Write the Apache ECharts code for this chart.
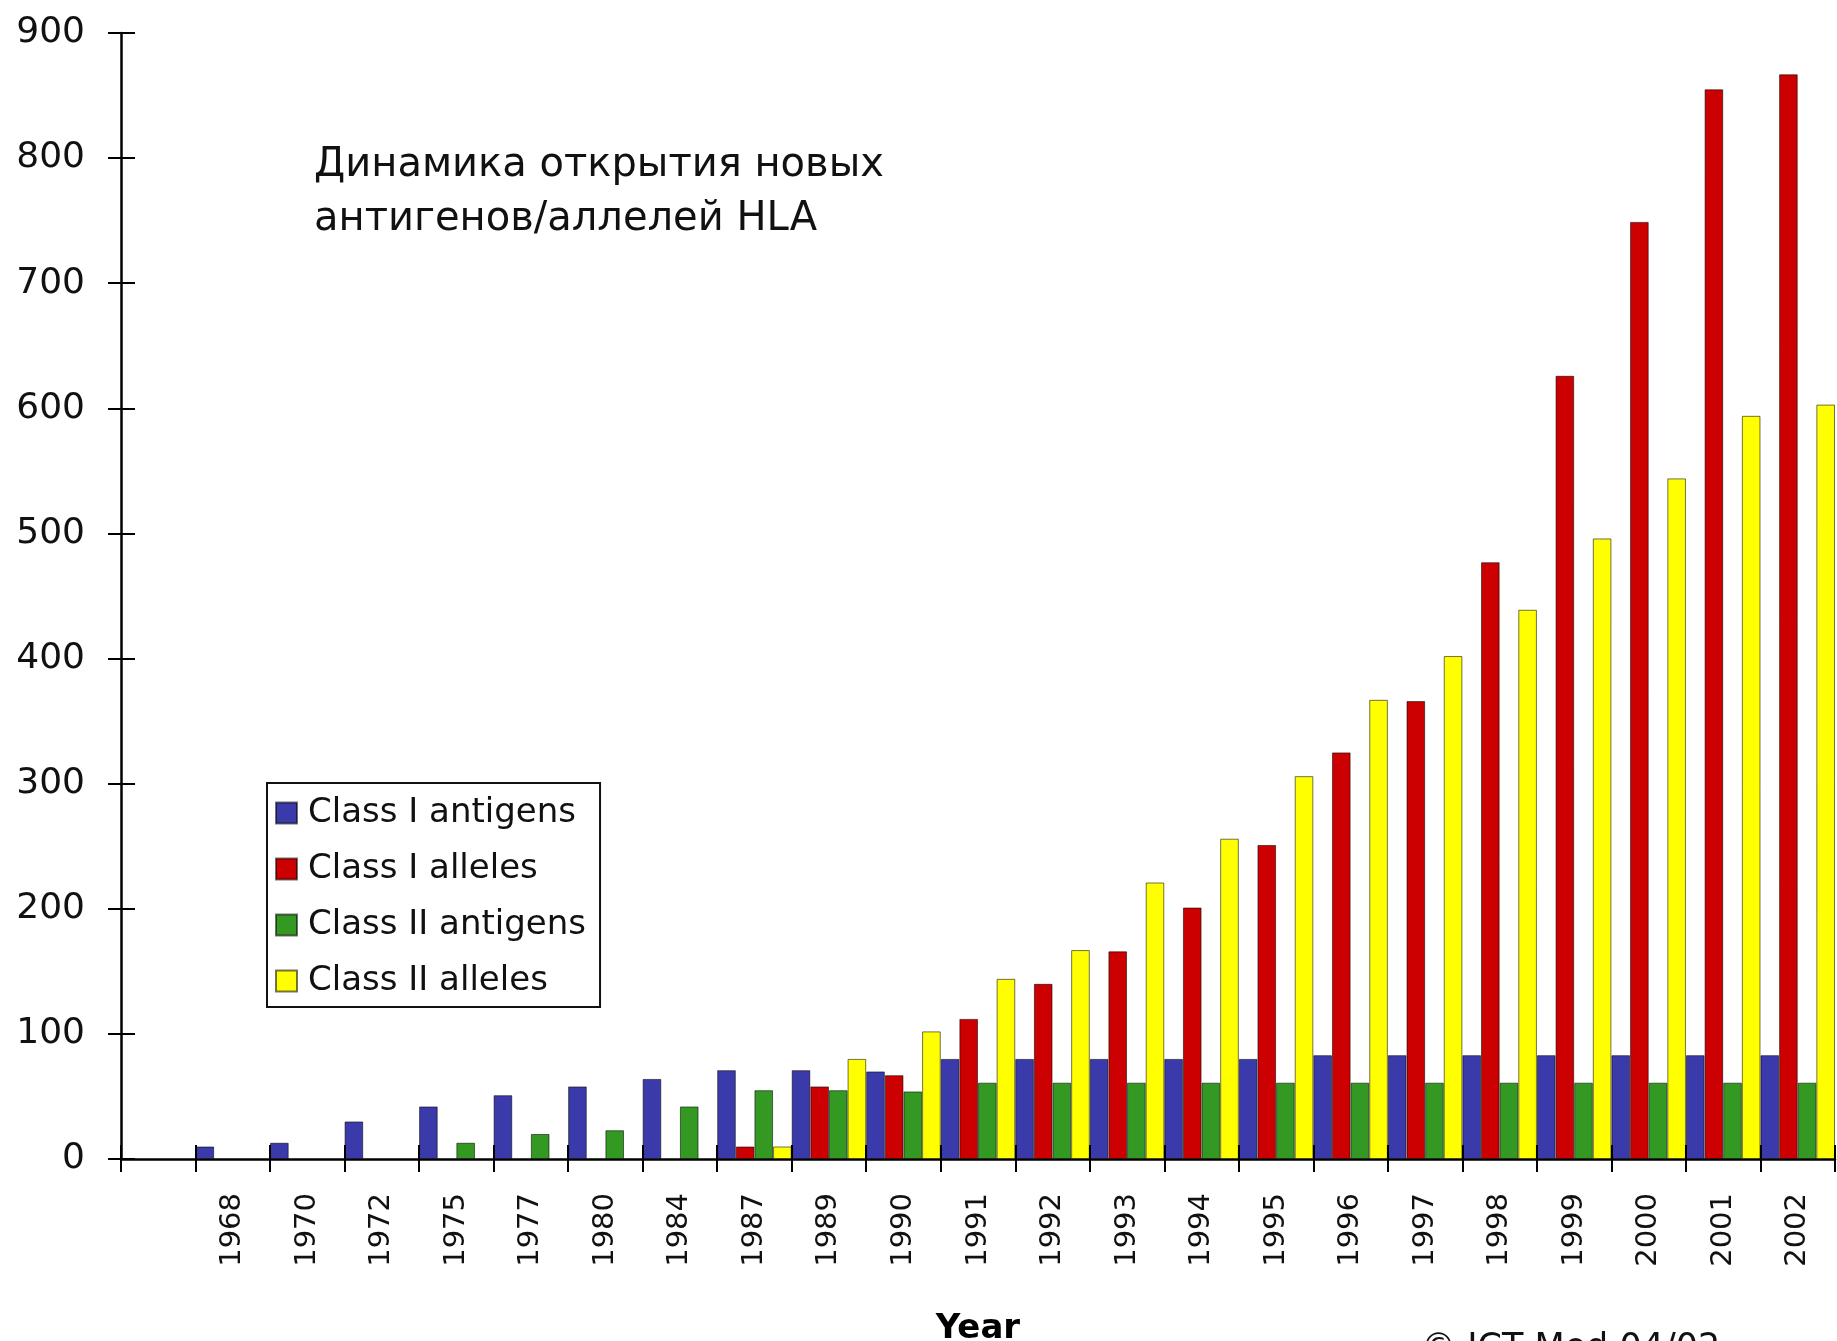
<!DOCTYPE html>
<html>
<head>
<meta charset="utf-8">
<title>HLA antigens and alleles by year</title>
<script src="https://cdn.jsdelivr.net/npm/echarts@6/dist/echarts.min.js"></script>
<style>
  html, body { margin: 0; padding: 0; background: #fff; }
  #chart { width: 1837px; height: 1341px; }
</style>
</head>
<body>
<div id="chart"></div>
<script>
// Years in which new HLA antigens / alleles were counted
const years = ['1968', '1970', '1972', '1975', '1977', '1980', '1984', '1987', '1989', '1990',
  '1991', '1992', '1993', '1994', '1995', '1996', '1997', '1998', '1999', '2000', '2001', '2002'];

// Cumulative counts per year (null = none recorded yet)
const classIAntigens = [10, 13, 30, 42, 51, 58, 64, 71, 71, 70, 80, 80, 80, 80, 80, 83, 83, 83, 83, 83, 83, 83];
const classIAlleles = [null, null, null, null, null, null, null, 10, 58, 67, 112, 140, 166, 201, 251, 325, 366, 477, 626, 749, 855, 867];
const classIIAntigens = [null, null, null, 13, 20, 23, 42, 55, 55, 54, 61, 61, 61, 61, 61, 61, 61, 61, 61, 61, 61, 61];
const classIIAlleles = [null, null, null, null, null, null, null, 10, 80, 102, 144, 167, 221, 256, 306, 367, 402, 439, 496, 544, 594, 603];

const yTicks = { min: 0, max: 900, interval: 100 };

const seriesNames = ['Class I antigens', 'Class I alleles', 'Class II antigens', 'Class II alleles'];
const seriesColors = ['#3a3aaa', '#cc0000', '#339922', '#ffff00'];
const seriesValues = [classIAntigens, classIAlleles, classIIAntigens, classIIAlleles];

// the axis starts one empty slot before the first year
const axisCategories = [''].concat(years);

const FONT = 'DejaVu Sans';
const chart = echarts.init(document.getElementById('chart'), null, { renderer: 'canvas' });

const series = seriesNames.map((name, i) => ({
  name: name,
  type: 'bar',
  xAxisIndex: 0,
  yAxisIndex: 0,
  barGap: '0%',
  barCategoryGap: '0%',
  data: [null].concat(seriesValues[i]),
  itemStyle: {
    color: seriesColors[i],
    borderColor: 'rgba(0,0,0,0.55)',
    borderWidth: 1
  },
  emphasis: { disabled: true }
}));

chart.setOption({
  animation: false,
  backgroundColor: '#ffffff',
  textStyle: { fontFamily: FONT },
  title: {
    text: 'Динамика открытия новых\nантигенов/аллелей HLA',
    left: 314,
    top: 139,
    padding: 0,
    textStyle: {
      fontFamily: FONT,
      fontSize: 40,
      fontWeight: 'normal',
      color: '#111',
      lineHeight: 54
    }
  },
  legend: {
    orient: 'vertical',
    left: 267,
    top: 783,
    padding: [12, 14, 8, 8],
    itemGap: 20,
    itemWidth: 21,
    itemHeight: 21,
    borderColor: '#111',
    borderWidth: 2,
    backgroundColor: '#fff',
    icon: 'rect',
    selectedMode: false,
    textStyle: {
      fontFamily: FONT,
      fontSize: 34,
      color: '#111',
      lineHeight: 36,
      padding: [0, 0, 0, 6]
    },
    data: seriesNames
  },
  grid: {
    left: 121,
    right: 2,
    top: 33,
    bottom: 182,
    containLabel: false,
    outerBoundsMode: 'none'
  },
  xAxis: [
    {
      type: 'category',
      data: axisCategories,
      boundaryGap: true,
      name: 'Year',
      nameLocation: 'middle',
      nameGap: 153,
      nameTextStyle: { fontFamily: FONT, fontSize: 34, fontWeight: 'bold', color: '#000' },
      axisLine: { lineStyle: { color: '#000', width: 2.5 } },
      axisTick: { show: true, inside: false, length: 13, interval: 0, lineStyle: { color: '#000', width: 2 } },
      axisLabel: {
        interval: 0,
        rotate: 90,
        margin: 34,
        fontFamily: FONT,
        fontSize: 29,
        color: '#111'
      },
      splitLine: { show: false }
    },
    {
      // inner half of the crossing ticks
      type: 'category',
      data: axisCategories,
      boundaryGap: true,
      position: 'bottom',
      z: 10,
      axisLine: { show: false },
      axisTick: { show: true, inside: true, length: 14, interval: 0, lineStyle: { color: '#000', width: 2 } },
      axisLabel: { show: false },
      splitLine: { show: false }
    }
  ],
  yAxis: [
    {
      type: 'value',
      min: yTicks.min,
      max: yTicks.max,
      interval: yTicks.interval,
      axisLine: { show: true, lineStyle: { color: '#000', width: 2.5 } },
      axisTick: { show: true, inside: false, length: 13, lineStyle: { color: '#000', width: 2 } },
      axisLabel: {
        margin: 36,
        fontFamily: FONT,
        fontSize: 36,
        color: '#111'
      },
      splitLine: { show: false }
    },
    {
      type: 'value',
      min: yTicks.min,
      max: yTicks.max,
      interval: yTicks.interval,
      position: 'left',
      z: 10,
      axisLine: { show: false },
      axisTick: { show: true, inside: true, length: 14, lineStyle: { color: '#000', width: 2 } },
      axisLabel: { show: false },
      splitLine: { show: false }
    }
  ],
  graphic: [
    {
      type: 'text',
      left: 1421,
      top: 1331,
      silent: true,
      style: {
        text: '© ICT Med 04/02',
        fontFamily: FONT,
        fontSize: 35,
        fill: '#111'
      }
    }
  ],
  series: series
});
</script>
</body>
</html>
